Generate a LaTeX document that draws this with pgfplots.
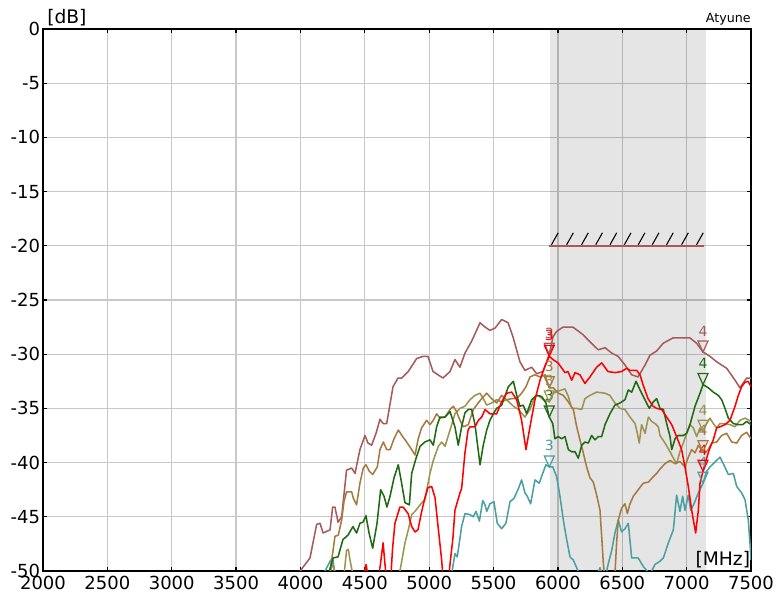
\documentclass[border=0pt]{standalone}
\usepackage{fontspec}
\setmainfont{DejaVu Sans}
\usepackage{pgfplots}
\pgfplotsset{compat=1.18}
\definecolor{crose}{HTML}{A65A5A}
\definecolor{cred}{HTML}{FF0000}
\definecolor{cgreen}{HTML}{1E6A12}
\definecolor{cbrown}{HTML}{A67A3E}
\definecolor{colive}{HTML}{9A9452}
\definecolor{cteal}{HTML}{4A9FA3}
\definecolor{gridgray}{HTML}{C8C8C8}
\pgfdeclareplotmark{dtri}{%
  \pgfpathmoveto{\pgfqpoint{0pt}{0pt}}%
  \pgfpathlineto{\pgfqpoint{-3.75pt}{8.25pt}}%
  \pgfpathlineto{\pgfqpoint{3.75pt}{8.25pt}}%
  \pgfpathclose
  \pgfusepathqstroke}
\pgfplotsset{
  mk/.style={#1, only marks, mark=dtri, mark options={line width=0.9pt, line join=miter},
    nodes near coords style={anchor=south, yshift=11.5pt, inner sep=0pt,
      font=\fontsize{10.5}{12}\selectfont, text=#1}},
  ser/.style={#1, line width=1.15pt, line join=round, mark=none}
}
\begin{document}
\begin{tikzpicture}
\begin{axis}[name=ax, scale only axis, width=531pt, height=406.5pt,
  xmin=2000, xmax=7500, ymin=-50, ymax=0,
  xtick={2000,2500,...,7500}, ytick={-50,-45,...,0},
  grid=major, major grid style={color=gridgray, line width=0.9pt},
  axis line style={black, line width=1.1pt},
  tick style={black, line width=0.9pt}, major tick length=3pt, tick align=inside,
  ticklabel style={font=\fontsize{13.5}{15}\selectfont},
  xticklabel style={yshift=-2.8pt, inner sep=1pt},
  yticklabel style={xshift=-0.5pt, inner sep=1.5pt},
  /pgf/number format/assume math mode=true,
  /pgf/number format/1000 sep={},
  clip mode=individual]
% band (the measurement range)
\addplot[fill=black, fill opacity=0.1, draw opacity=0, line width=0pt, mark=none, forget plot]
  coordinates {(5940,-50) (5940,0) (7150,0) (7150,-50) (5940,-50)};
% limit line with hatching
\addplot[black, line width=0.8pt, unbounded coords=jump]
  coordinates {(5950,-19.9) (6002,-18.8) (6002,nan)
  (6068,-19.9) (6120,-18.8) (6120,nan)
  (6184,-19.9) (6236,-18.8) (6236,nan)
  (6294,-19.9) (6346,-18.8) (6346,nan)
  (6405,-19.9) (6457,-18.8) (6457,nan)
  (6516,-19.9) (6568,-18.8) (6568,nan)
  (6624,-19.9) (6676,-18.8) (6676,nan)
  (6733,-19.9) (6785,-18.8) (6785,nan)
  (6844,-19.9) (6896,-18.8) (6896,nan)
  (6961,-19.9) (7013,-18.8) (7013,nan)
  (7077,-19.9) (7129,-18.8)};
\addplot[crose, line width=1.2pt] coordinates {(5930,-20) (7135,-20)};
% rose
\addplot[ser=crose] coordinates {
(3700,-51) (3950,-51) (4004,-49.9) (4074,-48.8) (4126,-45.7) (4152,-45.6) (4176,-46.5) (4230,-46.2) (4250,-44.1) (4268,-44.1) (4292,-45.5) (4320,-45) (4358,-40.7) (4398,-40.5) (4424,-41) (4462,-38.8) (4501,-37.5) (4525,-38.2) (4553,-38.4) (4587,-37.3) (4618,-36) (4642,-36.4) (4670,-36.4) (4719,-33) (4758,-32.2) (4786,-32.2) (4837,-31.6) (4903,-30.4) (4952,-30.2) (4990,-30.2) (5030,-31.6) (5107,-32.2) (5162,-31.6) (5200,-30.5) (5239,-31.2) (5278,-29.9) (5330,-28.8) (5395,-27.1) (5434,-27.5) (5472,-27.8) (5511,-27.6) (5563,-26.8) (5613,-27.1) (5651,-28.4) (5705,-30.7) (5744,-31.5) (5796,-31.2) (5835,-31.8) (5884,-31.6) (5933,-30.0) (5962,-28.4) (5990,-27.9) (6040,-27.5) (6117,-27.5) (6195,-28.2) (6262,-29) (6313,-29.6) (6366,-29.4) (6418,-29.9) (6468,-30.2) (6521,-31) (6573,-31.9) (6622,-32.1) (6677,-31) (6715,-30.1) (6767,-29.7) (6817,-29) (6894,-28.5) (6972,-28.5) (7026,-28.5) (7078,-29) (7127,-29.8) (7181,-30.2) (7233,-30.7) (7311,-31.3) (7376,-32.4) (7414,-33.1) (7466,-32.2) (7500,-32.2)};
% teal
\addplot[ser=cteal] coordinates {
(4150,-51) (4191,-50) (4230,-49.1) (4250,-48.8) (4268,-50.2) (4290,-51) (5160,-51) (5175,-50.2) (5188,-49.3) (5200,-48.4) (5218,-48.7) (5234,-47.4) (5252,-45.9) (5278,-44.7) (5317,-44.8) (5343,-45) (5364,-44.5) (5390,-45.4) (5416,-43.5) (5434,-43.9) (5447,-44.5) (5472,-43.8) (5503,-43.6) (5529,-45.6) (5563,-46.1) (5596,-45.6) (5628,-43.6) (5659,-43.3) (5693,-42.4) (5718,-41.6) (5744,-42.8) (5762,-43.1) (5788,-43.8) (5822,-41.6) (5855,-41.9) (5882,-41) (5907,-40.2) (5933,-40.4) (5960,-40.4) (5990,-41.3) (6016,-43.1) (6042,-45.3) (6068,-47.1) (6094,-48.7) (6120,-49) (6146,-49.7) (6171,-50.5) (6300,-50.5) (6327,-49.7) (6350,-50.5) (6375,-50.2) (6392,-49.3) (6418,-48.1) (6443,-46.5) (6469,-45.3) (6495,-46.4) (6521,-46.1) (6547,-45.6) (6573,-48.8) (6624,-48.8) (6664,-49.6) (6715,-50.3) (6754,-49.4) (6793,-49.1) (6819,-48.8) (6858,-47.4) (6897,-46.2) (6922,-43) (6948,-44.5) (6969,-43.1) (6987,-44.4) (7013,-43) (7032,-44.4) (7057,-43.8) (7091,-42.8) (7127,-41.9) (7156,-40.8) (7181,-40.4) (7207,-40.1) (7233,-39.8) (7259,-39.5) (7285,-40.1) (7324,-41.1) (7363,-41) (7389,-42.2) (7427,-42.8) (7453,-43.4) (7479,-45.3) (7492,-47.4) (7500,-49)};
% olive
\addplot[ser=colive] coordinates {
(4200,-51) (4230,-50.2) (4250,-49.3) (4270,-50.3) (4340,-50.2) (4358,-48.1) (4372,-48) (4385,-49) (4410,-50.5) (4424,-51) (4760,-51) (4773,-50) (4812,-47.4) (4838,-46.2) (4864,-44.8) (4890,-44.5) (4929,-43.9) (4967,-43.4) (5006,-41) (5032,-39.8) (5071,-38.5) (5097,-38.1) (5123,-38.5) (5149,-37.5) (5175,-36.5) (5200,-35.5) (5239,-35) (5278,-34.8) (5317,-34.2) (5356,-33.8) (5395,-33.6) (5420,-34.1) (5447,-34.7) (5485,-34.5) (5524,-34.2) (5563,-34.4) (5602,-34.2) (5654,-34.8) (5693,-35.1) (5744,-35.8) (5783,-35.1) (5822,-33.9) (5848,-33.8) (5887,-34.2) (5933,-34.4) (5964,-33.6) (6003,-33.4) (6055,-33.2) (6081,-33.9) (6107,-35) (6146,-35) (6185,-35.1) (6210,-34.1) (6249,-33.8) (6301,-33.5) (6366,-33.6) (6404,-33.8) (6443,-34.5) (6482,-35) (6521,-35.1) (6560,-35.8) (6599,-36.4) (6617,-37.3) (6632,-38.2) (6650,-36.5) (6677,-37.3) (6703,-35.8) (6728,-36.2) (6754,-36.4) (6780,-36.7) (6793,-37.5) (6832,-38.2) (6871,-39) (6897,-39.6) (6922,-40.1) (6948,-39) (6974,-38.2) (7000,-37.3) (7026,-36.5) (7052,-36.8) (7078,-37.6) (7104,-36.8) (7127,-37.1) (7156,-36.4) (7181,-35.9) (7207,-36.4) (7233,-36.8) (7259,-36.4) (7298,-36.4) (7337,-36.5) (7376,-36.7) (7414,-36.1) (7453,-35.9) (7500,-36.2)};
% brown
\addplot[ser=cbrown] coordinates {
(4200,-51) (4230,-49.9) (4250,-48.4) (4268,-46.8) (4294,-46.7) (4320,-45.3) (4338,-43.6) (4358,-42.7) (4398,-42.7) (4411,-43.3) (4436,-43.9) (4462,-41.9) (4488,-40.5) (4509,-40.2) (4535,-40.8) (4561,-41.1) (4597,-40.4) (4618,-38.8) (4644,-38.1) (4670,-38.8) (4696,-38.8) (4727,-37.8) (4760,-37) (4794,-37.6) (4825,-38.1) (4864,-38.8) (4890,-39.3) (4915,-37.8) (4941,-36.8) (4980,-36.1) (5006,-36.5) (5032,-36.1) (5058,-35.5) (5084,-35.9) (5123,-35.8) (5162,-35.1) (5188,-34.8) (5213,-35.3) (5239,-36.1) (5265,-36.7) (5304,-36.5) (5343,-35.1) (5381,-34.5) (5408,-34.1) (5447,-33.6) (5485,-34.1) (5524,-34.5) (5563,-33.8) (5602,-34.2) (5641,-34.1) (5680,-34.1) (5718,-33.6) (5752,-33) (5783,-32.1) (5822,-31.9) (5861,-32.1) (5900,-31.9) (5933,-33.1) (5964,-33.1) (6003,-33.6) (6042,-33.8) (6081,-34.4) (6120,-35.1) (6146,-36.7) (6171,-37.9) (6197,-39.1) (6223,-40.4) (6249,-41.4) (6275,-41.8) (6301,-43) (6327,-44.4) (6340,-46.8) (6353,-49.3) (6366,-51) (6440,-51) (6456,-47.4) (6469,-45.3) (6495,-44.2) (6521,-43.8) (6539,-44.7) (6560,-43.8) (6586,-43.1) (6612,-42.7) (6643,-42.2) (6664,-41.9) (6703,-41.8) (6741,-41.3) (6767,-41) (6793,-40.6) (6832,-40.1) (6871,-39.8) (6910,-40.1) (6948,-39.9) (6987,-40.4) (7013,-39.5) (7039,-38.8) (7065,-39.1) (7091,-38.4) (7127,-39.0) (7143,-39.1) (7168,-38.8) (7194,-38.2) (7233,-38.1) (7272,-37.5) (7311,-37.3) (7350,-38.1) (7389,-38.2) (7427,-37.5) (7466,-37.2) (7500,-37.8)};
% green
\addplot[ser=cgreen] coordinates {
(4200,-51) (4242,-49.3) (4253,-48.8) (4292,-48.7) (4330,-47.1) (4369,-46.7) (4408,-45.9) (4436,-46.5) (4462,-45.6) (4486,-45.5) (4509,-44.9) (4533,-46.5) (4561,-47.9) (4595,-45.6) (4623,-42.5) (4649,-43.1) (4672,-44.1) (4696,-43.1) (4727,-41.4) (4760,-40.2) (4786,-41.9) (4812,-43.7) (4846,-43.9) (4864,-41) (4898,-39.6) (4929,-38.5) (4967,-38.1) (5006,-37.9) (5032,-38.4) (5058,-36.7) (5084,-35.8) (5123,-35.8) (5162,-35.3) (5200,-36.7) (5226,-38.4) (5252,-36.7) (5278,-35.4) (5304,-35.1) (5330,-35.1) (5356,-36.5) (5374,-38.2) (5395,-40.2) (5420,-38.4) (5447,-37) (5472,-36.1) (5498,-35.5) (5524,-35) (5563,-34.7) (5615,-33) (5654,-32.5) (5680,-33.8) (5705,-34.8) (5731,-34.7) (5757,-35.5) (5796,-34.2) (5835,-33.8) (5874,-33.9) (5907,-34.5) (5933,-35.8) (5960,-36.4) (5977,-37.8) (6003,-37.6) (6029,-37.8) (6055,-37.6) (6081,-38.8) (6107,-39) (6133,-39) (6158,-39.6) (6185,-38.4) (6210,-38.1) (6236,-38.2) (6262,-37.5) (6288,-37.9) (6314,-37.6) (6340,-37.6) (6366,-36.5) (6404,-35.5) (6443,-34.7) (6482,-34.5) (6521,-34.2) (6547,-33.3) (6573,-33.5) (6607,-32.5) (6638,-33.3) (6676,-34.2) (6710,-35) (6741,-34.4) (6767,-34.1) (6793,-35) (6819,-35.1) (6845,-36.4) (6871,-37.6) (6884,-38.8) (6910,-37.8) (6935,-37.5) (6974,-37.5) (7000,-37.3) (7026,-36.5) (7065,-34.8) (7104,-33.6) (7127,-32.8) (7168,-33.1) (7207,-33.5) (7246,-33.8) (7272,-34.2) (7298,-35) (7324,-35.9) (7363,-36.4) (7401,-36.5) (7435,-36.5) (7466,-36.2) (7500,-36.5)};
% red
\addplot[ser=cred] coordinates {
(4450,-52) (4495,-50.2) (4510,-49.4) (4525,-50.5) (4600,-51) (4620,-49.5) (4642,-47.4) (4665,-50.5) (4700,-51) (4715,-48) (4734,-45.6) (4773,-44.1) (4797,-44.1) (4836,-44.7) (4864,-45.9) (4890,-46.4) (4913,-46.2) (4940,-44.6) (4968,-43.2) (4991,-42.3) (5019,-42.2) (5045,-43.2) (5069,-45.9) (5097,-49) (5110,-51) (5147,-51) (5170,-48.5) (5185,-46.9) (5200,-44.4) (5239,-42.8) (5252,-42.4) (5278,-39.1) (5302,-37) (5317,-36.7) (5356,-36.7) (5382,-36.1) (5408,-35.8) (5434,-35.1) (5472,-35.5) (5524,-35.5) (5563,-34.4) (5602,-33.6) (5641,-33.5) (5680,-34.2) (5718,-36.1) (5752,-38.8) (5783,-36.7) (5822,-34.2) (5861,-32.4) (5900,-31.1) (5933,-30.2) (5962,-30.5) (6001,-30.8) (6055,-31.7) (6078,-31.6) (6107,-32.4) (6133,-31.7) (6171,-31.9) (6210,-32.7) (6249,-32.1) (6301,-31.2) (6340,-30.8) (6389,-31.6) (6443,-31.7) (6495,-31.6) (6534,-31.3) (6560,-31.5) (6612,-31.5) (6638,-31.9) (6661,-32.8) (6700,-34.1) (6739,-34.8) (6767,-35) (6806,-35.1) (6845,-35.8) (6884,-36.5) (6922,-37.6) (6961,-38.8) (6987,-40.4) (7013,-42.2) (7039,-44.4) (7070,-46.5) (7091,-44.4) (7104,-41.9) (7127,-40.8) (7150,-39.8) (7176,-38.8) (7207,-37.9) (7233,-36.8) (7259,-36.7) (7298,-36.5) (7337,-36.1) (7376,-34.8) (7399,-33.9) (7427,-33) (7453,-32.6) (7477,-32.5) (7500,-33)};
% markers 3
\addplot[mk=cteal, nodes near coords={3}] coordinates {(5933,-40.4)};
\addplot[mk=cgreen, nodes near coords={3}] coordinates {(5933,-35.8)};
\addplot[mk=colive, nodes near coords={3}] coordinates {(5933,-34.4)};
\addplot[mk=cbrown, nodes near coords={3}] coordinates {(5933,-33.1)};
\addplot[mk=crose, nodes near coords={3}] coordinates {(5933,-30.0)};
\addplot[mk=cred, nodes near coords={3}] coordinates {(5933,-30.2)};
% markers 4
\addplot[mk=cteal, nodes near coords={4}] coordinates {(7127,-41.9)};
\addplot[mk=cred, nodes near coords={4}] coordinates {(7127,-40.8)};
\addplot[mk=cbrown, nodes near coords={4}] coordinates {(7127,-39.0)};
\addplot[mk=colive, nodes near coords={4}] coordinates {(7127,-37.1)};
\addplot[mk=cgreen, nodes near coords={4}] coordinates {(7127,-32.8)};
\addplot[mk=crose, nodes near coords={4}] coordinates {(7127,-29.8)};
\end{axis}
\node[anchor=south west, inner sep=0pt, font=\fontsize{14}{16}\selectfont] at ([shift={(3pt,1.7pt)}]ax.north west) {[dB]};
\node[anchor=south east, inner sep=0pt, font=\fontsize{14}{16}\selectfont] at ([shift={(-0.5pt,2pt)}]ax.south east) {[MHz]};
\node[anchor=south east, inner sep=0pt, font=\fontsize{9.5}{11}\selectfont] at ([shift={(0pt,2.8pt)}]ax.north east) {Atyune};
\pgfresetboundingbox
\path ([shift={(-32.25pt,-19.5pt)}]ax.south west) rectangle ([shift={(21pt,21.75pt)}]ax.north east);
\end{tikzpicture}
\end{document}
